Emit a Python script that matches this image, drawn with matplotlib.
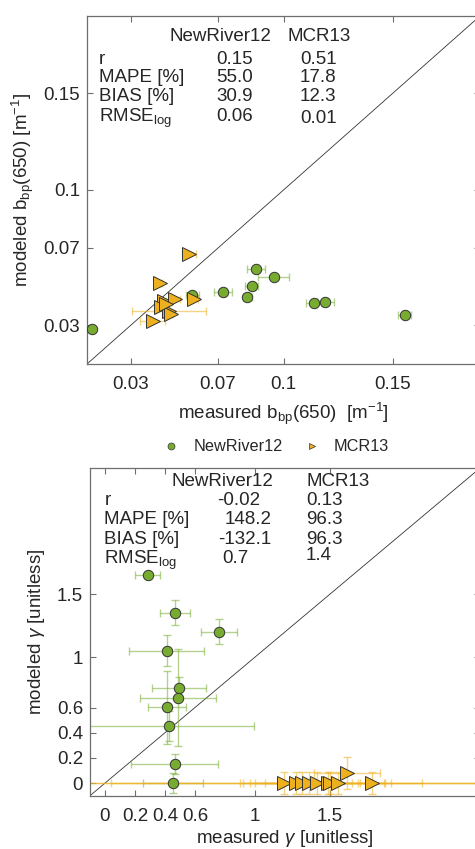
import matplotlib
matplotlib.use('Agg')
import matplotlib.pyplot as plt
from matplotlib.lines import Line2D

plt.rcParams['font.family'] = ['Liberation Sans', 'DejaVu Sans']
plt.rcParams['mathtext.fontset'] = 'custom'
plt.rcParams['mathtext.rm'] = 'Liberation Sans'
plt.rcParams['mathtext.it'] = 'Liberation Sans:italic'
plt.rcParams['font.size'] = 13.5

green = '#77AC30'
orange = '#EDB120'

# --- b_bp(650) panel ---
nr_bbp_meas = [0.0123, 0.0583, 0.0722, 0.0835, 0.0854, 0.0875, 0.0955, 0.1141, 0.1192, 0.1556]
nr_bbp_mod = [0.0279, 0.0455, 0.0474, 0.0448, 0.0504, 0.0589, 0.0552, 0.0417, 0.0419, 0.0355]
nr_bbp_err = [0.001, 0.003, 0.004, 0.002, 0.003, 0.004, 0.007, 0.004, 0.004, 0.003]

mcr_bbp_meas = [0.0568, 0.0435, 0.0453, 0.0504, 0.0588, 0.0438, 0.0474, 0.0483, 0.0400, 0.0464]
mcr_bbp_mod = [0.0667, 0.0519, 0.0426, 0.0438, 0.0434, 0.0395, 0.0372, 0.0360, 0.0321, 0.0412]
mcr_bbp_err = [0.0032, 0.001, 0.002, 0.002, 0.002, 0.001, 0.017, 0.001, 0.0057, 0.001]

# --- gamma panel ---
nr_g_meas = [0.284, 0.467, 0.760, 0.413, 0.496, 0.489, 0.413, 0.427, 0.464, 0.451]
nr_g_mod = [1.651, 1.352, 1.201, 1.050, 0.751, 0.677, 0.603, 0.452, 0.151, 0.0]
nr_g_xerr = [0.083, 0.098, 0.117, 0.25, 0.18, 0.253, 0.129, 0.568, 0.29, 0.2]
nr_g_yerr = [0.02, 0.099, 0.10, 0.123, 0.09, 0.385, 0.29, 0.12, 0.08, 0.08]

mcr_g_meas = [1.195, 1.273, 1.311, 1.36, 1.411, 1.489, 1.50, 1.555, 1.611, 1.778]
mcr_g_mod = [0, 0, 0, 0, 0, 0, 0, 0, 0.08, 0]
mcr_g_xerr = [1.5, 0.375, 0.39, 1.318, 0.447, 0.42, 1.7, 0.555, 0.22, 0.09]
mcr_g_yerr = [0.085, 0.085, 0.085, 0.085, 0.085, 0.085, 0.085, 0.085, 0.13, 0.085]

stat_rows = ['r', 'MAPE [%]', 'BIAS [%]', 'RMSE$_{\\mathrm{log}}$']
bbp_nr_stats = ['0.15', '55.0', '30.9', '0.06']
bbp_mcr_stats = ['0.51', '17.8', '12.3', '0.01']
g_nr_stats = ['-0.02', '148.2', '-132.1', '0.7']
g_mcr_stats = ['0.13', '96.3', '96.3', '1.4']

W, H = 475, 849
fig = plt.figure(figsize=(W / 100, H / 100), dpi=100)
ax1 = fig.add_axes([87 / W, 1 - 364 / H, 393 / W, 348 / H])
ax2 = fig.add_axes([90 / W, 1 - 795.7 / H, 390 / W, 327.6 / H])

spine_col = '#6e6e6e'
text_col = '#262626'


def style(ax):
    for s in ax.spines.values():
        s.set_color(spine_col)
        s.set_linewidth(0.9)
    ax.tick_params(direction='in', length=4, width=0.8, color=spine_col,
                   top=True, right=True, labelcolor=text_col, labelsize=13.5)
    ax.tick_params(axis='x', pad=9)
    ax.tick_params(axis='y', pad=5)


def draw(ax, xs, ys, xe, ye, color, marker, ms):
    ax.errorbar(xs, ys, xerr=xe, yerr=ye, fmt='none', ecolor=color, alpha=0.55,
                elinewidth=1.0, capsize=3, capthick=1.0, zorder=2)
    ax.plot(xs, ys, linestyle='none', marker=marker, markersize=ms,
            markerfacecolor=color, markeredgecolor='#333333', markeredgewidth=0.7, zorder=3)


# top panel
ax1.plot([0.01, 0.19], [0.01, 0.19], color='#333333', linewidth=0.6, zorder=1)
draw(ax1, nr_bbp_meas, nr_bbp_mod, nr_bbp_err, None, green, 'o', 7.5)
draw(ax1, mcr_bbp_meas, mcr_bbp_mod, mcr_bbp_err, None, orange, '>', 9.5)
ax1.set_xlim(0.01, 0.19)
ax1.set_ylim(0.01, 0.19)
ax1.set_xticks([0.03, 0.07, 0.1, 0.15])
ax1.set_xticklabels(['0.03', '0.07', '0.1', '0.15'])
ax1.set_yticks([0.03, 0.07, 0.1, 0.15])
ax1.set_yticklabels(['0.03', '0.07', '0.1', '0.15'])
style(ax1)
ax1.set_xlabel('measured b$_{\\mathrm{bp}}$(650)  [m$^{\\mathrm{-1}}$]', color=text_col)
ax1.set_ylabel('modeled b$_{\\mathrm{bp}}$(650) [m$^{\\mathrm{-1}}$]', color=text_col)
ax1.xaxis.set_label_coords(0.5, -0.105)
ax1.yaxis.set_label_coords(-0.13, 0.5)

ax1.text(0.211, 0.940, 'NewRiver12', transform=ax1.transAxes, va='center', color=text_col)
ax1.text(0.511, 0.940, 'MCR13', transform=ax1.transAxes, va='center', color=text_col)
row_y1 = [0.882, 0.828, 0.773, 0.718]
for lab, a, b, yy in zip(stat_rows, bbp_nr_stats, bbp_mcr_stats, row_y1):
    ax1.text(0.0305, yy, lab, transform=ax1.transAxes, va='center_baseline', color=text_col)
    ax1.text(0.330, yy, a, transform=ax1.transAxes, va='center_baseline', color=text_col)
    ax1.text(0.542, yy - (0.006 if lab.startswith('RMSE') else 0), b,
             transform=ax1.transAxes, va='center_baseline', color=text_col)

# bottom panel
ax2.plot([-0.1, 2.5], [-0.1, 2.5], color='#333333', linewidth=0.6, zorder=1)
draw(ax2, nr_g_meas, nr_g_mod, nr_g_xerr, nr_g_yerr, green, 'o', 7.5)
draw(ax2, mcr_g_meas, mcr_g_mod, mcr_g_xerr, mcr_g_yerr, orange, '>', 9.5)
ax2.set_xlim(-0.1, 2.5)
ax2.set_ylim(-0.1, 2.5)
ax2.set_xticks([0, 0.2, 0.4, 0.6, 1, 1.5])
ax2.set_xticklabels(['0', '0.2', '0.4', '0.6', '1', '1.5'])
ax2.set_yticks([0, 0.2, 0.4, 0.6, 1, 1.5])
ax2.set_yticklabels(['0', '0.2', '0.4', '0.6', '1', '1.5'])
style(ax2)
ax2.set_xlabel('measured $\\gamma$ [unitless]', color=text_col)
ax2.set_ylabel('modeled $\\gamma$ [unitless]', color=text_col)
ax2.xaxis.set_label_coords(0.5, -0.1)
ax2.yaxis.set_label_coords(-0.11, 0.5)

ax2.text(0.208, 0.958, 'NewRiver12', transform=ax2.transAxes, va='center', color=text_col)
ax2.text(0.554, 0.958, 'MCR13', transform=ax2.transAxes, va='center', color=text_col)
row_y2 = [0.906, 0.849, 0.789, 0.730]
nr_x2 = [0.325, 0.344, 0.329, 0.338]
for lab, a, b, yy, xx in zip(stat_rows, g_nr_stats, g_mcr_stats, row_y2, nr_x2):
    ax2.text(0.037, yy, lab, transform=ax2.transAxes, va='center_baseline', color=text_col)
    ax2.text(xx, yy, a, transform=ax2.transAxes, va='center_baseline', color=text_col)
    ax2.text(0.554, yy + (0.008 if lab.startswith('RMSE') else 0), b,
             transform=ax2.transAxes, va='center_baseline', color=text_col)

handles = [
    Line2D([], [], linestyle='none', marker='o', markersize=5, markerfacecolor=green,
           markeredgecolor='#333333', markeredgewidth=0.5, label='NewRiver12'),
    Line2D([], [], linestyle='none', marker='>', markersize=5, markerfacecolor=orange,
           markeredgecolor='#333333', markeredgewidth=0.5, label='MCR13'),
]
fig.legend(handles=handles, loc='center', bbox_to_anchor=(276 / W, 1 - 447 / H), ncol=2,
           frameon=False, fontsize=11.7, handlelength=1.0, handletextpad=0.85,
           columnspacing=1.3, labelcolor=text_col)

fig.savefig('out.png', dpi=100)
